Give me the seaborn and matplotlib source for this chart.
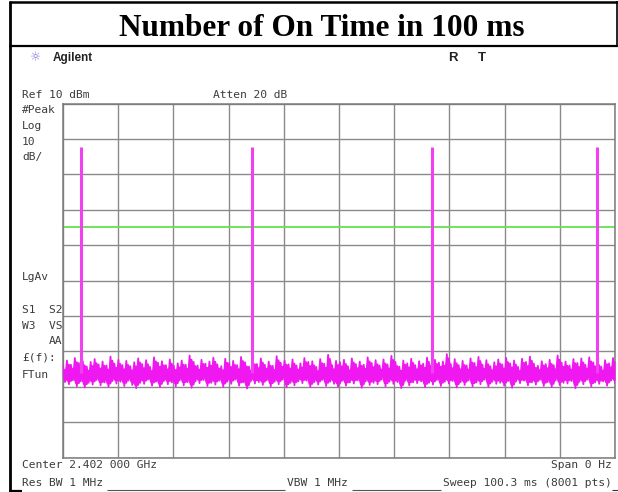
import numpy as np
import matplotlib
matplotlib.use("Agg")
import matplotlib.pyplot as plt
from matplotlib.lines import Line2D
import seaborn as sns

# ---- data ----------------------------------------------------------------
sweep_ms = 100.3            # zero-span sweep time
ref_level_dbm = 10          # top of screen
db_per_div = 10
display_line_dbm = -25      # green display line

pulse_ms = [3.2, 34.4, 67.0, 97.0]          # instants the transmitter is on
pulse_dbm = [-2.3, -2.3, -2.3, -2.3]        # peak level of each burst
pulse_base_dbm = -66.0

# noise-floor trace (dBm), sampled evenly over the sweep
noise_dbm = [
    -64.1, -68.7, -62.6, -69.3, -63.8, -68.2, -61.9, -69.9, -63.3, -68.5, -62.8, -70.2, -64.3, -68.9, -63.0, -69.4, -62.2, -68.1, -63.7, -69.6,
    -62.9, -68.8, -64.0, -70.0, -61.5, -68.4, -63.5, -69.1, -62.4, -68.6, -63.9, -69.8, -62.7, -68.3, -64.2, -69.5, -63.1, -70.4, -62.0, -68.9,
    -63.6, -69.2, -62.5, -68.0, -64.4, -69.7, -61.7, -68.6, -63.2, -70.1, -62.8, -68.4, -63.9, -69.3, -62.3, -68.8, -64.1, -69.9, -63.4, -68.2,
    -62.6, -69.6, -63.8, -68.7, -61.2, -70.3, -63.0, -68.5, -64.0, -69.0, -62.4, -68.1, -63.5, -69.8, -62.9, -68.9, -61.8, -69.4, -63.7, -68.3,
    -64.2, -70.0, -62.1, -68.6, -63.3, -69.2, -62.7, -68.0, -63.9, -69.7, -61.6, -68.8, -63.1, -70.5, -64.3, -68.4, -62.5, -69.1, -63.6, -68.7,
    -62.0, -69.5, -63.8, -68.2, -62.9, -69.9, -64.1, -68.6, -61.4, -69.3, -63.2, -68.0, -62.6, -70.2, -63.7, -68.9, -62.3, -69.6, -64.0, -68.5,
    -63.4, -69.0, -61.9, -68.3, -63.0, -70.1, -62.8, -68.7, -64.4, -69.4, -62.2, -68.1, -63.5, -69.8, -61.0, -68.6, -63.9, -69.2, -62.7, -70.0,
    -63.1, -68.4, -62.4, -69.7, -64.2, -68.8, -62.0, -69.1, -63.6, -68.2, -62.9, -70.3, -63.8, -68.5, -61.7, -69.5, -63.3, -68.9, -62.5, -69.3,
    -64.0, -68.0, -62.3, -69.9, -63.7, -68.6, -61.3, -69.2, -63.0, -68.7, -64.3, -70.4, -62.6, -68.3, -63.4, -69.6, -62.1, -68.8, -63.9, -69.0,
    -62.8, -68.5, -63.5, -70.1, -61.8, -68.9, -64.1, -69.4, -62.4, -68.1, -63.2, -69.8, -62.9, -68.6, -60.8, -69.1, -63.6, -68.4, -62.2, -70.2,
    -63.9, -68.7, -62.7, -69.5, -64.0, -68.2, -62.0, -69.9, -63.3, -68.8, -61.6, -69.3, -63.8, -68.0, -62.5, -70.0, -64.2, -68.6, -63.1, -69.2,
    -62.3, -68.9, -63.7, -69.7, -61.9, -68.4, -63.4, -70.3, -62.6, -68.5, -64.4, -69.0, -62.1, -68.3, -63.0, -69.6, -61.5, -68.8, -63.5, -69.4,
    -64.1, -68.1, -62.8, -69.8, -63.6, -68.7, -62.4, -70.1, -63.9, -68.2, -61.2, -69.5, -63.2, -68.9, -62.9, -69.1, -64.0, -68.4, -62.2, -70.4,
    -63.3, -68.6, -62.0, -69.3, -63.8, -68.0, -61.7, -69.9, -63.1, -68.8, -62.7, -69.2, -64.3, -68.5, -62.5, -69.7, -63.4, -68.3, -61.9, -69.0,
]

title = "Number of On Time in 100 ms"
left_labels = [("#Peak", 110), ("Log", 126), ("10", 142), ("dB/", 157),
               ("LgAv", 277), ("S1  S2", 310), ("W3  VS", 326)]

# ---- figure --------------------------------------------------------------
W, H = 618, 492
sns.set_style("white")
fig = plt.figure(figsize=(W / 100, H / 100), dpi=100)
fig.patch.set_facecolor("white")


def fx(x):
    return x / W


def fy(y):
    return 1 - y / H


ax = fig.add_axes([fx(63), fy(457.5), (615 - 63) / W, (457.5 - 103.5) / H])
bottom_dbm = ref_level_dbm - 10 * db_per_div
ax.set_xlim(0, sweep_ms)
ax.set_ylim(bottom_dbm, ref_level_dbm)
ax.set_xticks(np.linspace(0, sweep_ms, 11))
ax.set_yticks(np.arange(bottom_dbm, ref_level_dbm + 1, db_per_div))
ax.tick_params(length=0, labelbottom=False, labelleft=False)
ax.grid(True, color="#8a8a8a", lw=1.0)
ax.set_axisbelow(True)
for s in ax.spines.values():
    s.set_color("#7a7a7a")
    s.set_linewidth(1.1)
ax.set_xlabel("")
ax.set_ylabel("")

trace_ms = np.linspace(0, sweep_ms, len(noise_dbm))
trace = np.asarray(noise_dbm)
# peak-hold envelope of neighbouring samples, as the display shows it
padded = np.pad(trace, 1, mode="edge")
env_hi = np.maximum.reduce([padded[:-2], padded[1:-1], padded[2:]])
env_lo = np.minimum.reduce([padded[:-2], padded[1:-1], padded[2:]])
env_hi = np.minimum(env_hi, np.maximum(trace, np.roll(trace, 1)))
ax.fill_between(trace_ms, env_lo + 0.8, env_hi - 0.8, color="#f018f0",
                lw=0, zorder=3)
sns.lineplot(x=trace_ms, y=noise_dbm, ax=ax, color="#f018f0", lw=1.3,
             estimator=None, zorder=3)
ax.vlines(pulse_ms, pulse_base_dbm, pulse_dbm, color="#f040f0", lw=2.2, zorder=4)
ax.axhline(display_line_dbm, color="#66e050", lw=1.3, zorder=2)

# ---- outer frame ---------------------------------------------------------
def fline(xs, ys, lw, color="black"):
    fig.add_artist(Line2D([fx(x) for x in xs], [fy(y) for y in ys],
                          transform=fig.transFigure, color=color, lw=lw,
                          solid_capstyle="butt"))

fline([9.5, 9.5], [1, 491], 2.0)
fline([8.5, 618], [1.5, 1.5], 1.8)
fline([8.5, 618], [45.5, 45.5], 1.6)
fline([617, 617], [1, 46], 1.2)
fline([8.5, 22], [490.5, 490.5], 1.6)
fline([107, 285], [490, 490], 0.8, "#555555")
fline([352, 441], [490, 490], 0.8, "#555555")
fline([612, 618], [490, 490], 0.8, "#333333")

fig.text(fx(322), fy(36), title, ha="center", va="baseline", color="black",
         family="Liberation Serif", fontweight="bold", fontsize=22.5)

# ---- instrument annotations ---------------------------------------------
fig.text(fx(36), fy(57.5), "\u263c", ha="center", va="center",
         color="#8a6ee0", fontsize=9, family="DejaVu Sans")
fig.text(fx(53), fy(58), "Agilent", ha="left", va="center",
         family="Liberation Sans", fontweight="bold", fontsize=8.5, color="#222222")
fig.text(fx(453), fy(58), "R", ha="center", va="center",
         family="Liberation Sans", fontweight="bold", fontsize=9.5, color="#222222")
fig.text(fx(482), fy(58), "T", ha="center", va="center",
         family="Liberation Sans", fontweight="bold", fontsize=9.5, color="#222222")

mono = dict(family="DejaVu Sans Mono", fontsize=8.1, color="#3c3c3c", va="center")
fig.text(fx(22), fy(95), "Ref 10 dBm", ha="left", **mono)
fig.text(fx(213), fy(95), "Atten 20 dB", ha="left", **mono)
for txt, y in left_labels:
    fig.text(fx(22), fy(y), txt, ha="left", **mono)
fig.text(fx(62), fy(341), "AA", ha="right", **mono)
fig.text(fx(22), fy(358), "\u00a3(f):", ha="left", **mono)
fig.text(fx(22), fy(375), "FTun", ha="left", **mono)

fig.text(fx(22), fy(465), "Center 2.402 000 GHz", ha="left", **mono)
fig.text(fx(612), fy(465), "Span 0 Hz", ha="right", **mono)
fig.text(fx(22), fy(483), "Res BW 1 MHz", ha="left", **mono)
fig.text(fx(287), fy(483), "VBW 1 MHz", ha="left", **mono)
fig.text(fx(612), fy(483), "Sweep 100.3 ms (8001 pts)", ha="right", **mono)

fig.savefig("out.png", dpi=100, facecolor="white")
